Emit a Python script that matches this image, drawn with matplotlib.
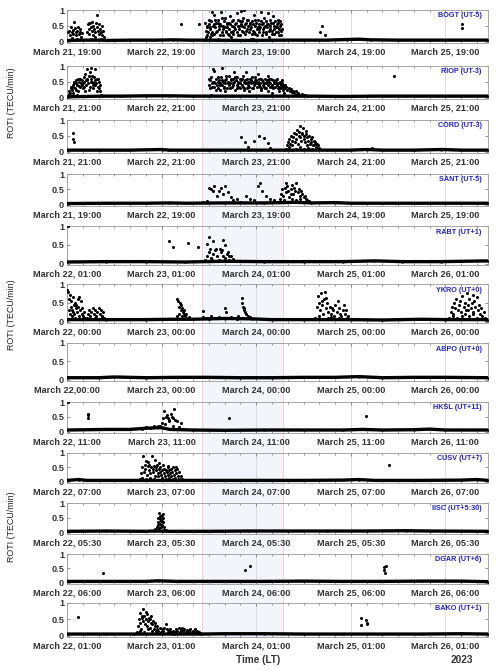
import matplotlib
matplotlib.use('Agg')
import matplotlib.pyplot as plt
import matplotlib.transforms as mtransforms
from matplotlib.patches import Rectangle
from matplotlib.lines import Line2D
from matplotlib.ticker import MultipleLocator

plt.rcParams['font.family'] = ['Liberation Sans', 'DejaVu Sans']

# ---------------- data (time in hours since 22 March 00:00 UT, ROTI in TECU/min)
stations = ['BOGT (UT-5)', 'RIOP (UT-3)', 'CORD (UT-3)', 'SANT (UT-5)', 'RABT (UT+1)', 'YKRO (UT+0)',
            'ABPO (UT+0)', 'HKSL (UT+11)', 'CUSV (UT+7)', 'IISC (UT+5:30)', 'DGAR (UT+6)', 'BAKO (UT+1)']
label_day0 = [21, 21, 21, 21, 22, 22, 22, 22, 22, 22, 22, 22]
label_hhmm = ['19:00', '21:00', '21:00', '19:00', '01:00', '00:00', '00:00', '11:00', '07:00', '05:30', '06:00', '01:00']
abpo_first_label = 'March 22,00:00'

bogt_base = [(0, 0.04), (4, 0.05), (9, 0.05), (10, 0.04), (16, 0.05), (22, 0.05), (27, 0.06), (31, 0.05), (35, 0.05),
             (45, 0.04), (55, 0.05), (60, 0.05), (66, 0.05), (71, 0.07), (74, 0.08), (77, 0.06), (84, 0.05), (92, 0.05),
             (100, 0.05), (106.8, 0.05)]
bogt_pts = [(0.3, 0.3), (0.6, 0.35), (0.8, 0.2), (1.0, 0.45), (1.2, 0.3), (1.4, 0.38), (1.6, 0.25), (1.8, 0.62), (2.0, 0.42),
            (2.2, 0.3), (2.4, 0.2), (2.6, 0.35), (2.8, 0.45), (3.0, 0.25), (3.2, 0.32), (3.4, 0.4), (3.6, 0.15), (3.8, 0.28),
            (1.3, 0.12), (2.5, 0.1), (5.0, 0.3), (5.3, 0.55), (5.5, 0.4), (5.7, 0.25), (5.9, 0.6), (6.1, 0.45), (6.3, 0.35),
            (6.5, 0.2), (6.7, 0.5), (6.9, 0.4), (7.1, 0.3), (7.3, 0.6), (7.5, 0.85), (7.6, 0.45), (7.8, 0.35), (8.0, 0.55),
            (8.2, 0.25), (8.4, 0.4), (8.6, 0.3), (8.8, 0.5), (9.0, 0.2), (9.2, 0.35), (9.4, 0.15), (6.0, 0.1), (7.0, 0.15),
            (8.5, 0.1), (5.6, 0.58), (6.4, 0.62), (29.0, 0.55), (33.5, 0.55),
            (35.0, 0.05), (35.2, 0.35), (35.4, 0.2), (35.6, 0.45), (35.8, 0.3), (36.0, 0.55), (36.2, 0.15), (36.4, 0.4),
            (36.6, 0.65), (36.8, 0.3), (37.0, 0.5), (37.2, 0.85), (37.4, 0.25), (37.6, 0.45), (37.8, 0.6), (38.0, 0.35),
            (38.2, 0.1), (38.4, 0.7), (38.6, 0.4), (38.8, 0.55), (39.0, 0.95), (39.2, 0.3), (39.4, 0.5), (39.6, 0.2),
            (39.8, 0.65), (40.0, 0.45), (40.2, 0.75), (40.4, 0.35), (40.6, 0.55), (40.8, 0.25), (41.0, 0.6), (41.2, 0.4),
            (41.4, 0.8), (41.6, 0.15), (41.8, 0.5), (42.0, 0.35), (42.2, 0.7), (42.4, 0.45), (42.6, 0.05), (42.8, 0.6),
            (43.0, 0.3), (43.2, 0.9), (43.4, 0.5), (43.6, 0.4), (43.8, 0.65), (44.0, 0.2), (44.2, 0.55), (44.4, 0.35),
            (44.6, 0.75), (44.8, 0.45), (45.0, 1.0), (45.2, 0.25), (45.4, 0.6), (45.6, 0.4), (45.8, 0.5), (46.0, 0.7),
            (46.2, 0.3), (46.4, 0.55), (46.6, 0.1), (46.8, 0.45), (47.0, 0.65), (47.2, 0.35), (47.4, 0.85), (47.6, 0.5),
            (47.8, 0.25), (48.0, 0.6), (48.2, 0.4), (48.4, 0.7), (48.6, 0.3), (48.8, 0.55), (49.0, 0.45), (49.2, 0.95),
            (49.4, 0.2), (49.6, 0.6), (49.8, 0.4), (50.0, 0.75), (50.2, 0.5), (50.4, 0.3), (50.6, 0.65), (50.8, 0.45),
            (51.0, 0.55), (51.2, 0.15), (51.4, 0.7), (51.6, 0.4), (51.8, 0.6), (52.0, 0.35), (52.2, 0.8), (52.4, 0.5),
            (52.6, 0.25), (52.8, 0.65), (53.0, 0.45), (53.2, 0.55), (53.4, 0.3), (53.6, 0.6), (53.8, 0.4), (54.0, 0.5),
            (54.2, 0.35), (54.4, 0.55), (35.5, 0.5), (36.5, 0.25), (37.5, 0.7), (38.5, 0.5), (39.5, 0.4), (40.5, 0.6),
            (41.5, 0.3), (42.5, 0.55), (43.5, 0.7), (44.5, 0.5), (45.5, 0.35), (46.5, 0.6), (47.5, 0.3), (48.5, 0.45),
            (49.5, 0.55), (50.5, 0.25), (51.5, 0.5), (52.5, 0.4), (53.5, 0.7), (54.3, 0.2), (36.9, 0.95), (44.1, 0.98),
            (50.9, 0.9), (38.1, 0.05), (47.1, 0.08),
            (35.1, 0.6), (35.3, 0.15), (35.9, 0.7), (36.3, 0.45), (36.7, 0.2), (37.3, 0.55), (37.9, 0.3), (38.3, 0.6),
            (38.7, 0.2), (39.3, 0.75), (39.7, 0.5), (40.3, 0.3), (40.7, 0.45), (41.1, 0.2), (41.3, 0.55), (41.9, 0.65),
            (42.1, 0.25), (42.7, 0.4), (43.3, 0.2), (43.7, 0.5), (44.3, 0.65), (44.7, 0.3), (45.1, 0.55), (45.7, 0.7),
            (46.3, 0.4), (46.9, 0.25), (47.3, 0.55), (47.7, 0.7), (48.1, 0.2), (48.7, 0.4), (49.3, 0.65), (49.7, 0.3),
            (50.1, 0.45), (50.7, 0.55), (51.3, 0.35), (51.9, 0.25), (52.3, 0.6), (52.9, 0.3), (53.3, 0.45), (53.7, 0.2),
            (54.1, 0.65), (54.5, 0.4),
            (64.6, 0.49), (64.3, 0.31), (65.5, 0.2), (100.3, 0.55), (100.3, 0.42)]

riop_base = [(0, 0.03), (9, 0.05), (14, 0.05), (20, 0.06), (26, 0.06), (32, 0.05), (36, 0.05), (50, 0.05), (62, 0.05),
             (70, 0.04), (78, 0.05), (86, 0.05), (94, 0.05), (100, 0.05), (106.8, 0.05)]
riop_pts = [(0.2, 0.05), (0.4, 0.12), (0.6, 0.2), (0.8, 0.15), (1.0, 0.3), (1.2, 0.25), (1.4, 0.4), (1.6, 0.35), (1.8, 0.5),
            (2.0, 0.3), (2.2, 0.45), (2.4, 0.55), (2.6, 0.4), (2.8, 0.2), (3.0, 0.5), (3.2, 0.6), (3.4, 0.35), (3.6, 0.45),
            (3.8, 0.55), (4.0, 0.3), (4.2, 0.65), (4.4, 0.5), (4.6, 0.75), (4.8, 0.4), (5.0, 0.9), (5.2, 0.55), (5.4, 0.45),
            (5.6, 0.7), (5.8, 0.35), (6.0, 0.6), (6.2, 0.95), (6.4, 0.5), (6.6, 0.4), (6.8, 0.65), (7.0, 0.55), (7.2, 0.9),
            (7.4, 0.45), (7.6, 0.6), (7.8, 0.35), (8.0, 0.5), (8.2, 0.3), (8.4, 0.2), (8.6, 0.1), (2.5, 0.1), (3.5, 0.05),
            (4.5, 0.2), (5.5, 0.25), (6.5, 0.3), (7.5, 0.2), (1.5, 0.15), (4.1, 0.45), (5.1, 0.6), (6.1, 0.5), (7.1, 0.4),
            (3.1, 0.38), (0.9, 0.35), (1.9, 0.45), (2.9, 0.6), (3.9, 0.4), (4.9, 0.55), (5.9, 0.8), (6.9, 0.45),
            (7.9, 0.6), (8.3, 0.4), (2.3, 0.25), (4.3, 0.35), (6.3, 0.7),
            (36.0, 0.4), (36.2, 0.55), (36.4, 0.3), (36.6, 0.65), (36.8, 0.45), (37.0, 0.5), (37.2, 0.35), (37.4, 0.85),
            (37.6, 0.45), (37.8, 0.6), (38.0, 0.4), (38.2, 0.5), (38.4, 0.3), (38.6, 0.55), (38.8, 0.45), (39.0, 0.65),
            (39.2, 0.4), (39.4, 0.95), (39.6, 0.5), (39.8, 0.35), (40.0, 0.55), (40.2, 0.45), (40.4, 0.6), (40.6, 0.3),
            (40.8, 0.5), (41.0, 0.4), (41.2, 0.7), (41.4, 0.45), (41.6, 0.55), (41.8, 0.35), (42.0, 0.6), (42.2, 0.45),
            (42.4, 0.5), (42.6, 0.25), (42.8, 0.55), (43.0, 0.4), (43.2, 0.65), (43.4, 0.5), (43.6, 0.35), (43.8, 0.6),
            (44.0, 0.45), (44.2, 0.55), (44.4, 0.4), (44.6, 0.7), (44.8, 0.5), (45.0, 0.3), (45.2, 0.55), (45.4, 0.45),
            (45.6, 0.6), (45.8, 0.4), (46.0, 0.5), (46.2, 0.35), (46.4, 0.6), (46.6, 0.45), (46.8, 0.55), (47.0, 0.3),
            (47.2, 0.5), (47.4, 0.4), (47.6, 0.65), (47.8, 0.45), (48.0, 0.55), (48.2, 0.35), (48.4, 0.5), (48.6, 0.4),
            (48.8, 0.6), (49.0, 0.45), (49.2, 0.3), (49.4, 0.55), (49.6, 0.4), (49.8, 0.5), (50.0, 0.35), (50.2, 0.6),
            (50.4, 0.45), (50.6, 0.3), (50.8, 0.55), (51.0, 0.4), (51.2, 0.5), (51.4, 0.35), (51.6, 0.45), (51.8, 0.6),
            (52.0, 0.4), (52.2, 0.3), (52.4, 0.5), (52.6, 0.45), (52.8, 0.35), (53.0, 0.55), (53.2, 0.4), (53.4, 0.3),
            (53.6, 0.45), (53.8, 0.35), (54.0, 0.5), (54.2, 0.4), (54.4, 0.3), (54.6, 0.45), (54.8, 0.35), (55.0, 0.4),
            (55.3, 0.3), (55.6, 0.35), (55.9, 0.25), (56.2, 0.3), (56.5, 0.2), (56.8, 0.28), (57.1, 0.18), (57.4, 0.22),
            (57.7, 0.15), (58.0, 0.2), (58.3, 0.12), (58.6, 0.15), (59.0, 0.1), (59.5, 0.12), (60.0, 0.08), (60.5, 0.1),
            (61.0, 0.07), (36.5, 0.1), (37.1, 0.9), (38.9, 0.25), (40.1, 0.2), (41.9, 0.05), (43.1, 0.3), (44.9, 0.25),
            (46.1, 0.2), (47.9, 0.05), (49.1, 0.25), (50.9, 0.2), (52.1, 0.15), (53.9, 0.2), (55.1, 0.15), (45.3, 0.8),
            (48.5, 0.75), (42.3, 0.8), (51.1, 0.7),
            (36.1, 0.6), (36.7, 0.35), (37.3, 0.5), (37.9, 0.25), (38.3, 0.65), (38.7, 0.4), (39.3, 0.55), (39.9, 0.3),
            (40.3, 0.7), (40.9, 0.45), (41.3, 0.3), (41.7, 0.6), (42.1, 0.4), (42.7, 0.65), (43.3, 0.45), (43.9, 0.3),
            (44.3, 0.6), (44.7, 0.35), (45.1, 0.45), (45.7, 0.3), (46.3, 0.5), (46.9, 0.65), (47.3, 0.3), (47.7, 0.55),
            (48.3, 0.45), (48.9, 0.35), (49.3, 0.6), (49.9, 0.45), (50.3, 0.3), (50.7, 0.5), (51.3, 0.6), (51.9, 0.35),
            (52.3, 0.55), (52.9, 0.45), (53.3, 0.6), (53.7, 0.3), (54.1, 0.45), (54.5, 0.55), (54.9, 0.25), (55.4, 0.4),
            (83.0, 0.68)]

cord_base = [(0, 0.05), (8, 0.05), (16, 0.05), (24, 0.07), (26, 0.05), (36, 0.05), (46, 0.05), (55, 0.05), (66, 0.05),
             (72, 0.05), (76, 0.07), (80, 0.05), (88, 0.05), (95, 0.07), (100, 0.05), (106.8, 0.05)]
cord_pts = [(1.5, 0.6), (1.4, 0.4), (1.7, 0.3), (44.2, 0.48), (45.2, 0.3), (48.6, 0.5), (49.9, 0.42), (50.9, 0.27),
            (47.5, 0.35), (46.0, 0.15), (51.5, 0.12),
            (55.5, 0.1), (55.8, 0.2), (56.0, 0.3), (56.2, 0.15), (56.4, 0.4), (56.6, 0.25), (56.8, 0.5), (57.0, 0.35),
            (57.2, 0.2), (57.4, 0.45), (57.6, 0.6), (57.8, 0.3), (58.0, 0.55), (58.2, 0.4), (58.4, 0.7), (58.6, 0.25),
            (58.8, 0.5), (59.0, 0.8), (59.2, 0.45), (59.4, 0.35), (59.6, 0.6), (59.8, 0.75), (60.0, 0.4), (60.2, 0.5),
            (60.4, 0.3), (60.6, 0.55), (60.8, 0.2), (61.0, 0.45), (61.2, 0.35), (61.4, 0.5), (61.6, 0.25), (61.8, 0.4),
            (62.0, 0.3), (62.2, 0.45), (62.4, 0.2), (62.6, 0.35), (62.8, 0.25), (63.0, 0.3), (63.2, 0.15), (63.4, 0.25),
            (63.6, 0.1), (63.8, 0.2), (64.0, 0.12), (64.3, 0.08), (57.1, 0.05), (58.1, 0.1), (59.1, 0.15), (60.1, 0.1),
            (61.1, 0.12), (62.1, 0.08), (59.5, 0.55), (60.7, 0.65), (58.9, 0.62), (77.3, 0.13)]

sant_base = [(0, 0.04), (10, 0.05), (20, 0.05), (26, 0.06), (30, 0.05), (40, 0.06), (50, 0.06), (58, 0.08), (62, 0.06),
             (68, 0.07), (72, 0.05), (80, 0.05), (90, 0.05), (100, 0.05), (106.8, 0.05)]
sant_pts = [(36.0, 0.55), (36.5, 0.5), (37.0, 0.45), (37.3, 0.6), (38.0, 0.3), (38.5, 0.45), (39.0, 0.55), (39.5, 0.35),
            (40.2, 0.6), (40.8, 0.4), (41.5, 0.25), (42.0, 0.15), (43.0, 0.2), (44.0, 0.1), (45.5, 0.3), (46.5, 0.2),
            (47.5, 0.15), (48.5, 0.6), (49.0, 0.7), (49.5, 0.45), (50.5, 0.3), (51.5, 0.2), (52.5, 0.15), (34.5, 0.1),
            (35.5, 0.12),
            (54.0, 0.2), (54.3, 0.35), (54.6, 0.5), (54.9, 0.3), (55.2, 0.55), (55.5, 0.4), (55.8, 0.6), (56.1, 0.45),
            (56.4, 0.25), (56.7, 0.5), (57.0, 0.65), (57.3, 0.35), (57.6, 0.55), (57.9, 0.45), (58.2, 0.7), (58.5, 0.4),
            (58.8, 0.5), (59.1, 0.3), (59.4, 0.45), (59.7, 0.35), (60.0, 0.25), (60.3, 0.3), (60.6, 0.2), (60.9, 0.15),
            (61.2, 0.1), (61.5, 0.12), (55.0, 0.15), (56.0, 0.1), (57.1, 0.2), (58.0, 0.15), (59.0, 0.2), (53.5, 0.1),
            (55.6, 0.7), (56.9, 0.35)]

rabt_base = [(0, 0.04), (10, 0.05), (20, 0.05), (30, 0.04), (40, 0.06), (50, 0.05), (60, 0.05), (70, 0.05), (78, 0.07),
             (85, 0.05), (95, 0.05), (106.8, 0.07)]
rabt_pts = [(0.2, 1.0), (26.0, 0.6), (26.8, 0.45), (30.6, 0.55), (33.2, 0.45), (36.0, 0.7), (35.5, 0.52), (36.3, 0.4),
            (37.0, 0.6), (39.5, 0.64), (40.0, 0.5), (39.2, 0.35), (41.0, 0.2),
            (35.0, 0.1), (35.5, 0.2), (36.0, 0.3), (36.5, 0.15), (37.0, 0.25), (37.5, 0.35), (38.0, 0.2), (38.5, 0.1),
            (39.0, 0.3), (39.5, 0.2), (40.0, 0.15), (40.5, 0.25), (41.0, 0.1), (41.5, 0.2), (42.0, 0.12), (42.5, 0.08),
            (37.8, 0.4), (38.8, 0.38), (36.8, 0.1), (40.8, 0.3)]

ykro_base = [(0, 0.05), (10, 0.05), (20, 0.05), (27, 0.06), (32, 0.06), (40, 0.08), (47, 0.07), (52, 0.05), (60, 0.05),
             (72, 0.05), (80, 0.04), (90, 0.06), (96, 0.05), (106.8, 0.05)]
ykro_pts = [(0.1, 0.83), (0.3, 0.8), (0.5, 0.6), (0.7, 0.7), (0.9, 0.4), (1.1, 0.55), (1.3, 0.3), (1.5, 0.65), (1.7, 0.45),
            (1.9, 0.2), (2.1, 0.5), (2.3, 0.35), (2.5, 0.25), (2.7, 0.4), (2.9, 0.6), (3.1, 0.65), (3.3, 0.3), (3.5, 0.55),
            (3.7, 0.2), (3.9, 0.35), (4.1, 0.15), (4.3, 0.25), (4.5, 0.1), (0.4, 0.3), (0.8, 0.2), (1.2, 0.15), (1.6, 0.25),
            (2.0, 0.1), (2.4, 0.45), (3.0, 0.15),
            (5.0, 0.1), (5.3, 0.2), (5.6, 0.3), (5.9, 0.15), (6.2, 0.25), (6.5, 0.35), (6.8, 0.2), (7.1, 0.3), (7.4, 0.15),
            (7.7, 0.25), (8.0, 0.35), (8.3, 0.2), (8.6, 0.3), (8.9, 0.15), (9.2, 0.25), (9.5, 0.1), (6.0, 0.08),
            (7.0, 0.1), (8.1, 0.08), (9.0, 0.12),
            (27.8, 0.15), (28.0, 0.59), (28.2, 0.55), (28.4, 0.4), (28.6, 0.5), (28.8, 0.3), (29.0, 0.45), (29.2, 0.35),
            (29.4, 0.25), (29.6, 0.3), (29.8, 0.2), (30.0, 0.15), (30.3, 0.2), (30.6, 0.1), (31.0, 0.12), (28.3, 0.2),
            (29.1, 0.15), (34.4, 0.29),
            (40.0, 0.35), (40.3, 0.25), (44.3, 0.62), (44.4, 0.5), (44.6, 0.4), (45.0, 0.3), (45.5, 0.2), (46.0, 0.15),
            (46.5, 0.12), (35.5, 0.1), (36.5, 0.15), (37.5, 0.1), (38.5, 0.12), (39.5, 0.1), (41.5, 0.12), (42.5, 0.1),
            (43.5, 0.15), (34.5, 0.12), (36.0, 0.08), (43.0, 0.08), (44.8, 0.35), (45.2, 0.25),
            (63.0, 0.1), (63.3, 0.4), (63.6, 0.67), (63.9, 0.5), (64.2, 0.3), (64.5, 0.77), (64.8, 0.45), (65.1, 0.6),
            (65.4, 0.8), (65.7, 0.35), (66.0, 0.5), (66.3, 0.25), (66.6, 0.4), (66.9, 0.2), (67.2, 0.37), (67.5, 0.3),
            (67.8, 0.15), (68.1, 0.45), (68.4, 0.25), (68.7, 0.55), (69.0, 0.35), (69.3, 0.2), (69.6, 0.15), (69.9, 0.3),
            (70.2, 0.45), (70.5, 0.2), (70.8, 0.3), (71.1, 0.1), (71.4, 0.15), (71.7, 0.08), (64.0, 0.15), (65.0, 0.2),
            (66.1, 0.1), (67.0, 0.12), (68.0, 0.08), (69.1, 0.1), (64.6, 0.55), (65.8, 0.62),
            (97.0, 0.1), (97.3, 0.25), (97.6, 0.4), (97.9, 0.2), (98.2, 0.5), (98.5, 0.35), (98.8, 0.6), (99.1, 0.3),
            (99.4, 0.45), (99.7, 0.55), (100.0, 0.25), (100.3, 0.67), (100.6, 0.4), (100.9, 0.5), (101.2, 0.3),
            (101.5, 0.77), (101.8, 0.45), (102.1, 0.6), (102.4, 0.35), (102.7, 0.5), (103.0, 0.25), (103.3, 0.55),
            (103.6, 0.4), (103.9, 0.65), (104.2, 0.3), (104.5, 0.45), (104.8, 0.2), (105.1, 0.35), (105.4, 0.15),
            (105.7, 0.25), (106.0, 0.1), (106.3, 0.05), (98.0, 0.15), (99.0, 0.1), (100.1, 0.15), (101.0, 0.2),
            (102.0, 0.15), (103.1, 0.2), (104.0, 0.1), (101.6, 0.3), (102.9, 0.7)]

abpo_base = [(0, 0.05), (8, 0.05), (12, 0.07), (20, 0.05), (28, 0.06), (36, 0.06), (44, 0.05), (52, 0.05), (60, 0.06),
             (68, 0.06), (74, 0.08), (80, 0.05), (88, 0.06), (96, 0.06), (106.8, 0.05)]
abpo_pts = []

hksl_base = [(0, 0.06), (10, 0.08), (16, 0.08), (20, 0.12), (24, 0.14), (26, 0.08), (32, 0.06), (40, 0.05), (50, 0.06),
             (60, 0.06), (70, 0.06), (75, 0.08), (80, 0.06), (88, 0.07), (92, 0.09), (96, 0.06), (106.8, 0.06)]
hksl_pts = [(0.2, 1.0), (5.3, 0.55), (5.3, 0.6), (5.4, 0.45),
            (24.6, 0.69), (27.2, 0.75), (25.0, 0.5), (25.5, 0.45), (26.0, 0.4), (24.0, 0.3), (28.8, 0.3), (25.8, 0.35),
            (26.6, 0.5), (27.0, 0.45), (25.3, 0.55), (26.3, 0.6), (24.3, 0.45), (27.5, 0.4), (28.0, 0.35), (23.5, 0.2),
            (22.5, 0.15), (21.0, 0.12), (20.0, 0.15), (19.0, 0.1), (22.0, 0.2), (23.0, 0.18), (24.8, 0.25), (26.9, 0.2),
            (28.3, 0.15), (29.5, 0.1), (41.0, 0.48), (75.8, 0.52)]

cusv_base = [(0, 0.05), (3, 0.08), (5, 0.05), (12, 0.05), (18, 0.05), (30, 0.05), (40, 0.05), (50, 0.05), (60, 0.05),
             (70, 0.06), (74, 0.08), (78, 0.05), (90, 0.05), (100, 0.06), (104, 0.08), (106.8, 0.05)]
cusv_pts = [(18.5, 0.1), (18.8, 0.3), (19.1, 0.5), (19.3, 0.88), (19.5, 0.35), (19.7, 0.6), (19.9, 0.45), (20.1, 0.73),
            (20.3, 0.25), (20.5, 0.55), (20.7, 0.4), (20.9, 0.6), (21.1, 0.3), (21.3, 0.5), (21.5, 0.9), (21.7, 0.45),
            (21.9, 0.35), (22.1, 0.55), (22.3, 0.2), (22.5, 0.5), (22.7, 0.4), (22.9, 0.6), (23.1, 0.3), (23.3, 0.45),
            (23.5, 0.35), (23.7, 0.5), (23.9, 0.25), (24.1, 0.4), (24.3, 0.6), (24.5, 0.3), (24.7, 0.45), (24.9, 0.2),
            (25.1, 0.4), (25.3, 0.35), (25.5, 0.5), (25.7, 0.25), (25.9, 0.4), (26.1, 0.3), (26.3, 0.45), (26.5, 0.2),
            (26.7, 0.35), (26.9, 0.5), (27.1, 0.25), (27.3, 0.4), (27.5, 0.15), (27.7, 0.3), (27.9, 0.45), (28.1, 0.2),
            (28.3, 0.35), (28.5, 0.1), (28.8, 0.2), (29.1, 0.1), (19.0, 0.15), (20.0, 0.1), (21.0, 0.15), (22.0, 0.1),
            (23.0, 0.2), (24.0, 0.15), (25.0, 0.1), (26.0, 0.12), (27.0, 0.1), (20.6, 0.7), (23.4, 0.65), (25.6, 0.55),
            (27.6, 0.5), (22.4, 0.75), (81.8, 0.57)]

iisc_base = [(0, 0.05), (10, 0.06), (20, 0.05), (22, 0.06), (26, 0.05), (36, 0.05), (46, 0.06), (56, 0.06), (66, 0.06),
             (76, 0.06), (86, 0.07), (92, 0.06), (106.8, 0.05)]
iisc_pts = [(22.6, 0.1), (22.8, 0.2), (23.0, 0.35), (23.2, 0.5), (23.4, 0.65), (23.5, 0.45), (23.6, 0.57), (23.7, 0.3),
            (23.8, 0.55), (23.9, 0.4), (24.0, 0.6), (24.1, 0.25), (24.2, 0.45), (24.3, 0.35), (24.4, 0.5), (24.5, 0.2),
            (24.6, 0.1), (23.3, 0.15), (23.95, 0.2), (24.25, 0.62), (23.1, 0.25), (22.3, 0.12), (25.0, 0.1)]

dgar_base = [(0, 0.05), (10, 0.05), (20, 0.05), (23, 0.07), (28, 0.05), (40, 0.05), (50, 0.05), (60, 0.06), (70, 0.05),
             (80, 0.05), (90, 0.06), (100, 0.06), (106.8, 0.04)]
dgar_pts = [(9.1, 0.33), (45.1, 0.45), (46.4, 0.58), (80.3, 0.55), (81.0, 0.58), (80.5, 0.45), (80.6, 0.35)]

bako_base = [(0, 0.05), (10, 0.05), (17, 0.05), (34, 0.05), (40, 0.06), (50, 0.06), (60, 0.05), (70, 0.05), (80, 0.05),
             (90, 0.05), (100, 0.06), (106.8, 0.05)]
bako_pts = [(2.8, 0.56),
            (17.7, 0.1), (18.0, 0.3), (18.2, 0.5), (18.4, 0.4), (18.6, 0.7), (18.8, 0.2), (19.0, 0.55), (19.2, 0.82),
            (19.4, 0.45), (19.6, 0.6), (19.8, 0.35), (20.0, 0.5), (20.2, 0.65), (20.4, 0.3), (20.6, 0.45), (20.8, 0.55),
            (21.0, 0.25), (21.2, 0.4), (21.4, 0.6), (21.6, 0.35), (21.8, 0.45), (22.0, 0.2), (22.2, 0.4), (22.4, 0.3),
            (22.6, 0.15), (22.8, 0.3), (18.5, 0.15), (19.5, 0.1), (20.5, 0.2), (21.5, 0.15), (19.1, 0.6), (20.1, 0.72),
            (21.1, 0.5),
            (22.9, 0.2), (23.2, 0.15), (23.5, 0.25), (23.8, 0.1), (24.1, 0.2), (24.4, 0.15), (24.7, 0.25), (25.0, 0.35),
            (25.3, 0.2), (25.6, 0.1), (25.9, 0.15), (26.2, 0.2), (26.5, 0.1), (26.8, 0.15), (27.1, 0.05), (27.4, 0.1),
            (27.7, 0.2), (28.0, 0.15), (28.3, 0.22), (28.6, 0.1), (28.9, 0.18), (29.2, 0.25), (29.5, 0.15), (29.8, 0.2),
            (30.1, 0.12), (30.4, 0.18), (30.7, 0.1), (31.0, 0.15), (31.3, 0.2), (31.6, 0.12), (31.9, 0.15), (32.2, 0.1),
            (32.5, 0.2), (32.8, 0.12), (33.1, 0.15), (33.4, 0.1), (33.7, 0.08),
            (74.6, 0.53), (74.6, 0.32), (75.8, 0.47), (76.0, 0.4), (76.1, 0.35)]

bases = [bogt_base, riop_base, cord_base, sant_base, rabt_base, ykro_base,
         abpo_base, hksl_base, cusv_base, iisc_base, dgar_base, bako_base]
points = [bogt_pts, riop_pts, cord_pts, sant_pts, rabt_pts, ykro_pts,
          abpo_pts, hksl_pts, cusv_pts, iisc_pts, dgar_pts, bako_pts]

storm_span = (34.3, 54.8)   # shaded interval (hours UT)
x_end = 106.8

# ---------------- layout (pixels)
W, H = 500, 671
left_px, right_px = 67, 488
tops_px = [10, 66, 120, 174, 226, 284, 343, 402, 453, 503, 554, 603]
bots_px = [43, 99, 153, 206, 265, 323, 381, 433, 483, 534, 584, 637]

fig = plt.figure(figsize=(W / 100, H / 100), dpi=100)
fig.patch.set_facecolor('white')

tick_col = '#333333'
axes = []
for i in range(12):
    ax = fig.add_axes([left_px / W, 1 - bots_px[i] / H, (right_px - left_px) / W, (bots_px[i] - tops_px[i]) / H])
    ax.set_facecolor('none')
    ax.set_xlim(0, x_end)
    ax.set_ylim(-0.04, 1.0)
    bt = [p[0] for p in bases[i]]
    bv = [p[1] for p in bases[i]]
    ax.plot(bt, bv, color='black', lw=2.4, solid_capstyle='butt', zorder=3)
    ax.plot(bt, bv, 'o', color='black', ms=1.8, mew=0, zorder=3)
    if points[i]:
        pt = [p[0] for p in points[i]]
        pv = [p[1] for p in points[i]]
        ax.plot(pt, pv, 'o', color='black', ms=2.2, mew=0, zorder=4, clip_on=True)
    ax.xaxis.set_minor_locator(MultipleLocator(4))
    labels = ['March %d, %s' % (label_day0[i] + k, label_hhmm[i]) for k in range(5)]
    if stations[i].startswith('ABPO'):
        labels[0] = abpo_first_label
    ax.set_xticks([0, 24, 48, 72, 96])
    ax.set_xticklabels(labels)
    ax.set_yticks([0, 0.5, 1])
    ax.set_yticklabels(['0', '0.5', '1'])
    ax.tick_params(axis='both', which='both', direction='in', top=True, right=True, colors='#666666',
                   labelcolor=tick_col, labelsize=6.6, width=0.5)
    ax.tick_params(axis='x', which='major', length=2.5, pad=3)
    ax.tick_params(axis='y', which='major', length=2.5, pad=2)
    ax.tick_params(axis='x', which='minor', length=1.5)
    for lab in ax.get_xticklabels() + ax.get_yticklabels():
        lab.set_fontweight('bold')
    ax.grid(True, axis='x', which='major', color='#dcdcdc', lw=0.7, zorder=0)
    for sp in ax.spines.values():
        sp.set_color('#9a9a9a')
        sp.set_linewidth(0.6)
    ax.text(0.985, 0.93, stations[i], transform=ax.transAxes, ha='right', va='top',
            fontsize=5.2, fontweight='bold', color='#2020d8')
    axes.append(ax)

# storm shading spanning all panels
top_fig = 1 - tops_px[0] / H
bot_fig = 1 - bots_px[-1] / H
trans = mtransforms.blended_transform_factory(axes[0].transData, fig.transFigure)
rect = Rectangle((storm_span[0], bot_fig), storm_span[1] - storm_span[0], top_fig - bot_fig,
                 transform=trans, facecolor='#f2f5fa', edgecolor='none', zorder=-2)
fig.add_artist(rect)
for xs in storm_span:
    fig.add_artist(Line2D([xs, xs], [bot_fig, top_fig], transform=trans, color='#f6c8c8', lw=0.6, zorder=-1))

# y labels
for yc in [103, 315, 527]:
    fig.text(12 / W, 1 - yc / H, 'ROTI (TECU/min)', rotation=90, ha='center', va='center',
             fontsize=6.4, color='#222222')

fig.text(258 / W, 1 - 660 / H, 'Time (LT)', ha='center', va='center', fontsize=7.2, fontweight='bold', color='#333333')
fig.text(462 / W, 1 - 660 / H, '2023', ha='center', va='center', fontsize=7.2, fontweight='bold', color='#333333')

fig.savefig('out.png', dpi=100, facecolor='white')
